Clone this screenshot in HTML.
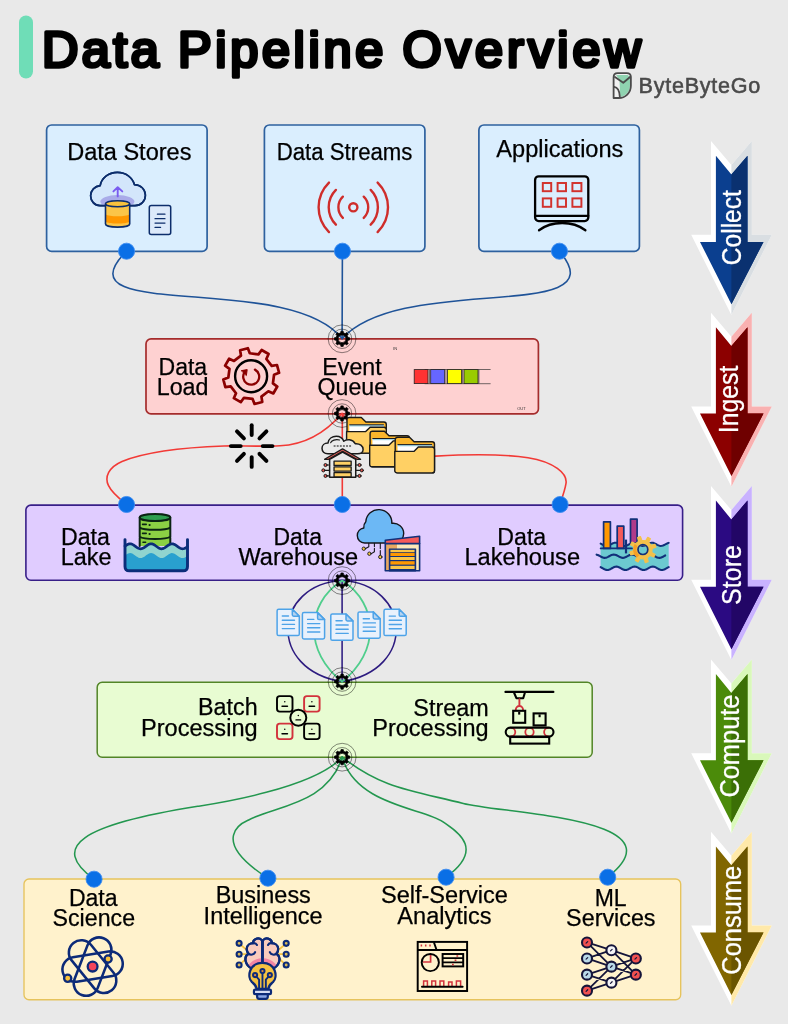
<!DOCTYPE html>
<html lang="en">
<head>
<meta charset="utf-8">
<title>Data Pipeline Overview</title>
<style>
html,body{margin:0;padding:0;background:#e9e9e9;}
body{width:788px;height:1024px;overflow:hidden;font-family:"Liberation Sans",sans-serif;}
svg{display:block;will-change:transform;}
text{font-family:"Liberation Sans",sans-serif;}
.lbl{font-size:24px;fill:#000;}
.side{font-size:24px;fill:#fff;}
</style>
</head>
<body>
<svg width="788" height="1024" viewBox="0 0 788 1024">
<!-- 00_bg -->
<rect x="0" y="0" width="788" height="1024" fill="#e9e9e9"/>
<!-- 10_title -->
<rect x="19" y="15.5" width="14" height="63" rx="7" ry="7" fill="#6fddb7"/>
<text y="66.6" font-size="50.4" fill="#000" stroke="#000" stroke-width="3.7" stroke-linejoin="round" stroke-linecap="round"><tspan x="41.9" textLength="116.8" lengthAdjust="spacing">Data</tspan> <tspan x="177.9" textLength="205.3" lengthAdjust="spacing">Pipeline</tspan> <tspan x="402.5" textLength="238.4" lengthAdjust="spacing">Overview</tspan></text>
<g id="logo">
  <clipPath id="logoclip"><path d="M613.61 77.17 Q613.61 73.11 617.68 73.11 H626.81 Q630.87 73.11 630.87 77.17 V85.80 C630.87 92.90 625.29 97.98 618.69 97.98 H613.61 Z"/></clipPath>
  <path d="M613.61 77.17 Q613.61 73.11 617.68 73.11 H626.81 Q630.87 73.11 630.87 77.17 V85.80 C630.87 92.90 625.29 97.98 618.69 97.98 H613.61 Z" fill="#f1f1f1"/>
  <path d="M616.15 74.93 L627.83 74.93 L629.96 77.17 V85.80 C629.96 91.89 625.29 96.46 620.21 97.07 L619.50 80.21 Z" fill="#8fd3b0" clip-path="url(#logoclip)"/>
  <g fill="none" stroke="#4a4a4a" stroke-width="1.8" stroke-linejoin="round" stroke-linecap="round">
  <path d="M614.93 76.96 L623.26 82.75 L630.37 76.76"/><path d="M614.12 86.81 Q619.40 87.52 619.81 96.66"/><path d="M613.61 77.17 Q613.61 73.11 617.68 73.11 H626.81 Q630.87 73.11 630.87 77.17 V85.80 C630.87 92.90 625.29 97.98 618.69 97.98 H613.61 Z"/>
  </g>
  <text x="638.6" y="92.9" font-size="21.6" fill="#4a4a4a" stroke="#4a4a4a" stroke-width="0.55" textLength="121.6" lengthAdjust="spacing">ByteByteGo</text>
</g>
<!-- 20_boxes -->
<g stroke-width="1.7">
  <rect x="46.6" y="125" width="160.5" height="126.4" rx="5" fill="#daeefe" stroke="#2e619f"/>
  <rect x="264.4" y="125" width="160.5" height="126.4" rx="5" fill="#daeefe" stroke="#2e619f"/>
  <rect x="478.9" y="125" width="160.5" height="126.4" rx="5" fill="#daeefe" stroke="#2e619f"/>
  <rect x="146" y="338.9" width="392.4" height="75" rx="5" fill="#fed1d1" stroke="#a52c2c"/>
  <rect x="25.9" y="505.1" width="656.7" height="75.1" rx="5" fill="#e0ccff" stroke="#381f88" stroke-width="1.6"/>
  <rect x="97.2" y="682.2" width="495" height="75" rx="5" fill="#e8fcd2" stroke="#528527" stroke-width="1.5"/>
  <rect x="24" y="879" width="656.7" height="120.7" rx="5" fill="#fff2cc" stroke="#e6c35c" stroke-width="1.35"/>
</g>
<!-- 30_lines -->
<g fill="none" stroke-width="1.6" stroke-linecap="round">
  <g stroke="#1f5398">
    <path d="M126.5 251.2 C54.6 323.3 288 270.5 342.1 338.6"/>
    <path d="M342.4 251 L342.1 338.6"/>
    <path d="M559.4 251.2 C621.3 324.2 402.3 272.4 342.1 338.6"/>
  </g>
  <g stroke="#f23a36">
    <path d="M342.1 413.5 C326 432 306 444.6 280 445.8 C260 446.6 238 445.6 224 446 C184 447.4 144 452.6 122 461.4 C108.6 467.2 104.4 477 108.4 485.4 C111.6 492.4 119.6 499 126.5 504.4"/>
    <path d="M342.3 413.5 L342.3 504"/>
    <path d="M342.1 413.5 C360 440 400 457 435.6 456.1 C470 454.2 500 453.6 528 457.7 C554 461.8 567.6 473.6 566 483.4 C564.8 491 562 498 559.8 504.4"/>
  </g>
  <g stroke="#2d1b80" stroke-width="1.55">
    <path d="M342.1 580.6 C273.1 584.6 266.9 669.7 342.1 681.6"/>
    <path d="M342.1 580.6 C411.1 584.6 417.3 669.7 342.1 681.6"/>
    <path d="M342.1 580.6 L342.1 681.6"/>
  </g>
  <g stroke="#4fce8c" stroke-width="1.8">
    <path d="M342.1 580.6 C304.5 604.8 304.8 652.2 342.1 681.6"/>
    <path d="M342.1 580.6 C379.7 604.8 379.4 652.2 342.1 681.6"/>
  </g>
  <g stroke="#23974f" stroke-width="1.55">
    <path d="M342.2 757.1 C313.5 789 211.2 804.2 197.7 806.3 C80.5 825 49.6 846.6 94 879.2"/>
    <path d="M342.2 757.1 C327.5 805 274 805.8 248.2 820.2 C247.3 820.7 204.2 837.2 267.9 878.2"/>
    <path d="M342.2 757.1 C355.8 805.3 424 808.3 442.6 821.6 C455.3 830.7 486.5 847.7 446.1 877.2"/>
    <path d="M342.2 757.1 C382 788.5 411.5 790.5 463.3 803.4 C506.9 814.3 683.9 817.4 607.7 877.2"/>
  </g>
</g>
<!-- 40_nodes -->
<g fill="#0a6fe6" stroke="#3d8cf0" stroke-width="0.9">
<circle cx="126.55" cy="251.2" r="8.05"/>
<circle cx="342.45" cy="251.2" r="8.05"/>
<circle cx="559.45" cy="251.2" r="8.05"/>
<circle cx="126.55" cy="504.5" r="8.05"/>
<circle cx="342.3" cy="504.5" r="8.05"/>
<circle cx="560.1" cy="504.5" r="8.05"/>
<circle cx="94.05" cy="879.2" r="8.05"/>
<circle cx="267.9" cy="878.2" r="8.05"/>
<circle cx="446.05" cy="877.2" r="8.05"/>
<circle cx="607.7" cy="877.2" r="8.05"/>
</g>
<g><circle cx="342.05" cy="338.8" r="13.9" fill="none" stroke="#000" stroke-opacity="0.7" stroke-width="0.65"/><circle cx="342.05" cy="338.8" r="9.7" fill="none" stroke="#000" stroke-opacity="0.7" stroke-width="0.65"/><path d="M340.63 332.87 L340.91 331.18 L343.19 331.18 L343.47 332.87 L345.24 333.60 L346.63 332.61 L348.24 334.22 L347.25 335.61 L347.98 337.38 L349.67 337.66 L349.67 339.94 L347.98 340.22 L347.25 341.99 L348.24 343.38 L346.63 344.99 L345.24 344.00 L343.47 344.73 L343.19 346.42 L340.91 346.42 L340.63 344.73 L338.86 344.00 L337.47 344.99 L335.86 343.38 L336.85 341.99 L336.12 340.22 L334.43 339.94 L334.43 337.66 L336.12 337.38 L336.85 335.61 L335.86 334.22 L337.47 332.61 L338.86 333.60Z M338.15 338.80 A3.9 3.9 0 1 0 345.95 338.80 A3.9 3.9 0 1 0 338.15 338.80 Z" fill="#000" fill-rule="evenodd" stroke="#000" stroke-width="0.7" stroke-linejoin="round"/></g>
<g><circle cx="342.05" cy="413.5" r="13.9" fill="none" stroke="#000" stroke-opacity="0.7" stroke-width="0.65"/><circle cx="342.05" cy="413.5" r="9.7" fill="none" stroke="#000" stroke-opacity="0.7" stroke-width="0.65"/><path d="M340.63 407.57 L340.91 405.88 L343.19 405.88 L343.47 407.57 L345.24 408.30 L346.63 407.31 L348.24 408.92 L347.25 410.31 L347.98 412.08 L349.67 412.36 L349.67 414.64 L347.98 414.92 L347.25 416.69 L348.24 418.08 L346.63 419.69 L345.24 418.70 L343.47 419.43 L343.19 421.12 L340.91 421.12 L340.63 419.43 L338.86 418.70 L337.47 419.69 L335.86 418.08 L336.85 416.69 L336.12 414.92 L334.43 414.64 L334.43 412.36 L336.12 412.08 L336.85 410.31 L335.86 408.92 L337.47 407.31 L338.86 408.30Z M338.15 413.50 A3.9 3.9 0 1 0 345.95 413.50 A3.9 3.9 0 1 0 338.15 413.50 Z" fill="#000" fill-rule="evenodd" stroke="#000" stroke-width="0.7" stroke-linejoin="round"/></g>
<g><circle cx="342.1" cy="580.6" r="13.9" fill="none" stroke="#000" stroke-opacity="0.7" stroke-width="0.65"/><circle cx="342.1" cy="580.6" r="9.7" fill="none" stroke="#000" stroke-opacity="0.7" stroke-width="0.65"/><path d="M340.68 574.67 L340.96 572.98 L343.24 572.98 L343.52 574.67 L345.29 575.40 L346.68 574.41 L348.29 576.02 L347.30 577.41 L348.03 579.18 L349.72 579.46 L349.72 581.74 L348.03 582.02 L347.30 583.79 L348.29 585.18 L346.68 586.79 L345.29 585.80 L343.52 586.53 L343.24 588.22 L340.96 588.22 L340.68 586.53 L338.91 585.80 L337.52 586.79 L335.91 585.18 L336.90 583.79 L336.17 582.02 L334.48 581.74 L334.48 579.46 L336.17 579.18 L336.90 577.41 L335.91 576.02 L337.52 574.41 L338.91 575.40Z M338.20 580.60 A3.9 3.9 0 1 0 346.00 580.60 A3.9 3.9 0 1 0 338.20 580.60 Z" fill="#000" fill-rule="evenodd" stroke="#000" stroke-width="0.7" stroke-linejoin="round"/></g>
<g><circle cx="342.1" cy="681.6" r="13.9" fill="none" stroke="#000" stroke-opacity="0.7" stroke-width="0.65"/><circle cx="342.1" cy="681.6" r="9.7" fill="none" stroke="#000" stroke-opacity="0.7" stroke-width="0.65"/><path d="M340.68 675.67 L340.96 673.98 L343.24 673.98 L343.52 675.67 L345.29 676.40 L346.68 675.41 L348.29 677.02 L347.30 678.41 L348.03 680.18 L349.72 680.46 L349.72 682.74 L348.03 683.02 L347.30 684.79 L348.29 686.18 L346.68 687.79 L345.29 686.80 L343.52 687.53 L343.24 689.22 L340.96 689.22 L340.68 687.53 L338.91 686.80 L337.52 687.79 L335.91 686.18 L336.90 684.79 L336.17 683.02 L334.48 682.74 L334.48 680.46 L336.17 680.18 L336.90 678.41 L335.91 677.02 L337.52 675.41 L338.91 676.40Z M338.20 681.60 A3.9 3.9 0 1 0 346.00 681.60 A3.9 3.9 0 1 0 338.20 681.60 Z" fill="#000" fill-rule="evenodd" stroke="#000" stroke-width="0.7" stroke-linejoin="round"/></g>
<g><circle cx="342.15" cy="757.2" r="13.9" fill="none" stroke="#000" stroke-opacity="0.7" stroke-width="0.65"/><circle cx="342.15" cy="757.2" r="9.7" fill="none" stroke="#000" stroke-opacity="0.7" stroke-width="0.65"/><path d="M340.73 751.27 L341.01 749.58 L343.29 749.58 L343.57 751.27 L345.34 752.00 L346.73 751.01 L348.34 752.62 L347.35 754.01 L348.08 755.78 L349.77 756.06 L349.77 758.34 L348.08 758.62 L347.35 760.39 L348.34 761.78 L346.73 763.39 L345.34 762.40 L343.57 763.13 L343.29 764.82 L341.01 764.82 L340.73 763.13 L338.96 762.40 L337.57 763.39 L335.96 761.78 L336.95 760.39 L336.22 758.62 L334.53 758.34 L334.53 756.06 L336.22 755.78 L336.95 754.01 L335.96 752.62 L337.57 751.01 L338.96 752.00Z M338.25 757.20 A3.9 3.9 0 1 0 346.05 757.20 A3.9 3.9 0 1 0 338.25 757.20 Z" fill="#000" fill-rule="evenodd" stroke="#000" stroke-width="0.7" stroke-linejoin="round"/></g>
<!-- 50_text -->
<g class="lbl" style="font-size:23px" stroke="#000" stroke-width="0.25">
<text x="67.17" y="160.2" textLength="124.28" lengthAdjust="spacingAndGlyphs">Data Stores</text>
<text x="276.78" y="160.2" textLength="135.62" lengthAdjust="spacingAndGlyphs">Data Streams</text>
<text x="496.35" y="157.1" textLength="127.0" lengthAdjust="spacingAndGlyphs">Applications</text>
<text x="158.51" y="374.9" textLength="48.69" lengthAdjust="spacingAndGlyphs">Data</text>
<text x="156.69" y="395.2" textLength="51.81" lengthAdjust="spacingAndGlyphs">Load</text>
<text x="322.3" y="374.5" textLength="59.37" lengthAdjust="spacingAndGlyphs">Event</text>
<text x="317.5" y="394.6" textLength="69.53" lengthAdjust="spacingAndGlyphs">Queue</text>
<text x="61.0" y="545.0" textLength="48.9" lengthAdjust="spacingAndGlyphs">Data</text>
<text x="60.78" y="564.9" textLength="50.87" lengthAdjust="spacingAndGlyphs">Lake</text>
<text x="273.52" y="544.9" textLength="48.48" lengthAdjust="spacingAndGlyphs">Data</text>
<text x="238.4" y="565.1" textLength="119.84" lengthAdjust="spacingAndGlyphs">Warehouse</text>
<text x="497.3" y="544.9" textLength="48.9" lengthAdjust="spacingAndGlyphs">Data</text>
<text x="464.46" y="565.2" textLength="115.59" lengthAdjust="spacingAndGlyphs">Lakehouse</text>
<text x="198.09" y="714.9" textLength="59.52" lengthAdjust="spacingAndGlyphs">Batch</text>
<text x="140.97" y="735.5" textLength="116.65" lengthAdjust="spacingAndGlyphs">Processing</text>
<text x="413.34" y="715.5" textLength="75.3" lengthAdjust="spacingAndGlyphs">Stream</text>
<text x="372.27" y="736.0" textLength="116.35" lengthAdjust="spacingAndGlyphs">Processing</text>
<text x="68.91" y="905.5" textLength="48.59" lengthAdjust="spacingAndGlyphs">Data</text>
<text x="52.55" y="926.3" textLength="82.48" lengthAdjust="spacingAndGlyphs">Science</text>
<text x="215.68" y="902.8" textLength="95.17" lengthAdjust="spacingAndGlyphs">Business</text>
<text x="203.63" y="924.1" textLength="119.02" lengthAdjust="spacingAndGlyphs">Intelligence</text>
<text x="380.93" y="902.8" textLength="127.02" lengthAdjust="spacingAndGlyphs">Self-Service</text>
<text x="397.35" y="924.1" textLength="94.2" lengthAdjust="spacingAndGlyphs">Analytics</text>
<text x="594.71" y="905.8" textLength="31.95" lengthAdjust="spacingAndGlyphs">ML</text>
<text x="566.14" y="926.1" textLength="89.4" lengthAdjust="spacingAndGlyphs">Services</text>
</g>
<g font-size="4" fill="#333"><text x="393.2" y="350.3">IN</text><text x="517.2" y="409.8">OUT</text></g>
<!-- 60_icons_top -->
<g id="ic-stores" stroke-linejoin="round" stroke-linecap="round">
  <clipPath id="cloudclip"><path d="M100 205.6 C94.5 205.6 90.6 201 90.6 195.8 C90.6 190.3 94.8 186.2 100.2 185.6 C101.5 178 108.5 172.4 117.4 172.4 C125.8 172.4 132.6 177.6 134.4 184.6 C140.6 184.8 145.4 189.3 145.4 195.2 C145.4 201 140.8 205.6 135 205.6 Z"/></clipPath>
  <path d="M100 205.6 C94.5 205.6 90.6 201 90.6 195.8 C90.6 190.3 94.8 186.2 100.2 185.6 C101.5 178 108.5 172.4 117.4 172.4 C125.8 172.4 132.6 177.6 134.4 184.6 C140.6 184.8 145.4 189.3 145.4 195.2 C145.4 201 140.8 205.6 135 205.6 Z" fill="#d3e6fb" stroke="#0c2d6b" stroke-width="1.6"/>
  <ellipse cx="117.4" cy="201.6" rx="17" ry="6.6" fill="#a9abe9" clip-path="url(#cloudclip)"/>
  <path d="M100 205.6 C94.5 205.6 90.6 201 90.6 195.8 C90.6 190.3 94.8 186.2 100.2 185.6 C101.5 178 108.5 172.4 117.4 172.4 C125.8 172.4 132.6 177.6 134.4 184.6 C140.6 184.8 145.4 189.3 145.4 195.2 C145.4 201 140.8 205.6 135 205.6 Z" fill="none" stroke="#0c2d6b" stroke-width="1.6"/>
  <path d="M117.7 196.4 V187.4 M113.4 191.4 L117.7 187.2 L122.3 191.4" fill="none" stroke="#7a5cf0" stroke-width="1.9"/>
  <path d="M105.5 203.8 V224 C105.5 228.2 129.7 228.2 129.7 224 V203.8 Z" fill="#fbc548"/>
  <path d="M105.5 214.3 C109 217 126 217 129.7 214.3 V221.4 C126 224.3 109 224.3 105.5 221.4 Z" fill="#ff9800"/>
  <ellipse cx="117.6" cy="203.8" rx="12.1" ry="3" fill="#f9c23c"/>
  <path d="M105.5 203.8 V224 C105.5 228.2 129.7 228.2 129.7 224 V203.8 M105.5 203.8 C105.5 199.8 129.7 199.8 129.7 203.8 C129.7 207.8 105.5 207.8 105.5 203.8 Z" fill="none" stroke="#0c2d6b" stroke-width="1.6"/>
  <rect x="149.3" y="205.5" width="21.4" height="29" rx="2" fill="#dce9fa" stroke="#0c2d6b" stroke-width="1.5"/>
  <path d="M157.4 214.2 H165 M155 218.7 H165 M155 223.1 H165 M155 227.4 H160.6" fill="none" stroke="#0c2d6b" stroke-width="1.2"/>
</g>
<g id="ic-streams" fill="none" stroke="#cf2d2b" stroke-width="2.4" stroke-linecap="round">
  <circle cx="353.3" cy="207.3" r="4.1"/>
  <path d="M342.86 196.67 A14.9 14.9 0 0 0 342.86 217.93 M363.74 196.67 A14.9 14.9 0 0 1 363.74 217.93"/>
  <path d="M335.91 189.91 A24.6 24.6 0 0 0 335.91 224.69 M370.69 189.91 A24.6 24.6 0 0 1 370.69 224.69"/>
  <path d="M328.98 182.55 A34.7 34.7 0 0 0 328.98 232.05 M377.62 182.55 A34.7 34.7 0 0 1 377.62 232.05"/>
</g>
<g id="ic-apps" fill="none" stroke-linejoin="round" stroke-linecap="round">
  <rect x="535.1" y="176.3" width="53.2" height="44.8" rx="3.6" stroke="#000" stroke-width="2.3"/>
  <path d="M535.1 215.8 H588.3" stroke="#000" stroke-width="2.2"/>
  <path d="M539 230.2 C552 220.6 572.4 220.6 585.4 230.2" stroke="#000" stroke-width="2.3"/>
  <g stroke="#d2322d" stroke-width="1.95" stroke-linejoin="miter">
    <rect x="542.8" y="183" width="8.4" height="8.2"/>
    <rect x="557.6" y="183" width="8.4" height="8.2"/>
    <rect x="572.4" y="183" width="9" height="8.2"/>
    <rect x="542.8" y="198.4" width="8.4" height="8.4"/>
    <rect x="557.6" y="198.4" width="8.4" height="8.4"/>
    <rect x="572.4" y="198.4" width="9" height="8.4"/>
  </g>
</g>
<!-- 61_icons_ingest -->
<g id="ic-load" fill="none" stroke-linejoin="round" stroke-linecap="round">
<path d="M240.98 355.61 L240.13 350.27 L247.87 348.20 L249.80 353.24 L258.47 354.38 L261.64 350.01 L268.58 354.02 L266.37 358.95 L271.69 365.88 L277.03 365.03 L279.10 372.77 L274.06 374.70 L272.92 383.37 L277.29 386.54 L273.28 393.48 L268.35 391.27 L261.42 396.59 L262.27 401.93 L254.53 404.00 L252.60 398.96 L243.93 397.82 L240.76 402.19 L233.82 398.18 L236.03 393.25 L230.71 386.32 L225.37 387.17 L223.30 379.43 L228.34 377.50 L229.48 368.83 L225.11 365.66 L229.12 358.72 L234.05 360.93Z" stroke="#8b0000" stroke-width="2.7"/>
<circle cx="251.1" cy="376.20000000000005" r="16" stroke="#000" stroke-width="2.4"/>
<path d="M254.96 369.64 A8.0 8.0 0 1 1 244.65 372.11" stroke="#8b0000" stroke-width="2.3"/>
<path d="M241.6 370.6 L247.2 369.6 L246.4 375.2 Z" fill="#8b0000" stroke="#8b0000" stroke-width="1"/>
</g>
<g id="ic-spin" stroke="#000" stroke-width="3.9" stroke-linecap="round">
<path d="M262.70 446.10 L272.50 446.10"/><path d="M259.48 453.88 L266.41 460.81"/><path d="M251.70 457.10 L251.70 466.90"/><path d="M243.92 453.88 L236.99 460.81"/><path d="M240.70 446.10 L230.90 446.10"/><path d="M243.92 438.32 L236.99 431.39"/><path d="M251.70 435.10 L251.70 425.30"/><path d="M259.48 438.32 L266.41 431.39"/>
</g>
<g id="ic-queue">
<path d="M424.6 369.5 H490.6 M424.6 383.7 H490.6 M429.4 369.5 V383.7 M446 369.5 V383.7 M462.6 369.5 V383.7 M478.9 369.5 V383.7" fill="none" stroke="#333" stroke-width="0.7"/>
<g stroke="#222" stroke-width="0.8">
<rect x="414.2" y="369.6" width="13.8" height="14" fill="#ff3333"/>
<rect x="430.7" y="369.6" width="14" height="14" fill="#6666ff"/>
<rect x="447.5" y="369.6" width="14" height="14" fill="#ffff00"/>
<rect x="464" y="369.6" width="14" height="14" fill="#99cc00"/>
</g>
</g>
<g id="ic-folders">
<g transform="translate(346.3 416.8)" stroke="#1a1a1a" stroke-width="1.4" stroke-linejoin="round"><path d="M0.7 3.2 Q0.7 0.7 3.2 0.7 L15 0.7 L19.6 5.2 L37.6 5.2 Q40 5.2 40 7.6 L40 33.8 Q40 36.3 37.5 36.3 L3.2 36.3 Q0.7 36.3 0.7 33.8 Z" fill="#fbb62c"/><rect x="3" y="8" width="34.6" height="8" fill="#ffffff" stroke="none"/><rect x="3" y="8" width="34.6" height="1.7" fill="#9fd3e6" stroke="none"/><path d="M3 8 H37.6" fill="none" stroke-width="1"/><path d="M0.3 14.8 L19.4 14.8 L23.8 10.4 L37.6 10.4 Q40 10.4 40 12.8 L40 33.8 Q40 36.3 37.5 36.3 L2.8 36.3 Q0.3 36.3 0.3 33.8 Z" fill="#ffd064"/></g>
<g transform="translate(369.4 430.5)" stroke="#1a1a1a" stroke-width="1.4" stroke-linejoin="round"><path d="M0.7 3.2 Q0.7 0.7 3.2 0.7 L15 0.7 L19.6 5.2 L37.6 5.2 Q40 5.2 40 7.6 L40 33.8 Q40 36.3 37.5 36.3 L3.2 36.3 Q0.7 36.3 0.7 33.8 Z" fill="#fbb62c"/><rect x="3" y="8" width="34.6" height="8" fill="#ffffff" stroke="none"/><rect x="3" y="8" width="34.6" height="1.7" fill="#9fd3e6" stroke="none"/><path d="M3 8 H37.6" fill="none" stroke-width="1"/><path d="M0.3 14.8 L19.4 14.8 L23.8 10.4 L37.6 10.4 Q40 10.4 40 12.8 L40 33.8 Q40 36.3 37.5 36.3 L2.8 36.3 Q0.3 36.3 0.3 33.8 Z" fill="#ffd064"/></g>
<g transform="translate(394.5 436.6)" stroke="#1a1a1a" stroke-width="1.4" stroke-linejoin="round"><path d="M0.7 3.2 Q0.7 0.7 3.2 0.7 L15 0.7 L19.6 5.2 L37.6 5.2 Q40 5.2 40 7.6 L40 33.8 Q40 36.3 37.5 36.3 L3.2 36.3 Q0.7 36.3 0.7 33.8 Z" fill="#fbb62c"/><rect x="3" y="8" width="34.6" height="8" fill="#ffffff" stroke="none"/><rect x="3" y="8" width="34.6" height="1.7" fill="#9fd3e6" stroke="none"/><path d="M3 8 H37.6" fill="none" stroke-width="1"/><path d="M0.3 14.8 L19.4 14.8 L23.8 10.4 L37.6 10.4 Q40 10.4 40 12.8 L40 33.8 Q40 36.3 37.5 36.3 L2.8 36.3 Q0.3 36.3 0.3 33.8 Z" fill="#ffd064"/></g>
</g>
<g id="ic-whcloud" stroke="#1a1a1a" stroke-width="1.5" stroke-linejoin="round" stroke-linecap="round">
<path d="M327.94 453.76 C324.14 453.76 322.01 451.32 322.01 448.27 C322.01 445.23 324.52 443.10 327.94 443.10 C328.55 438.76 332.13 436.24 336.32 436.24 C339.75 436.24 342.56 438.00 343.78 441.27 C346.60 438.98 352.31 438.98 355.20 443.71 C359.92 443.33 363.12 445.99 363.12 449.42 C363.12 452.08 360.69 453.76 357.64 453.76 Z" fill="#eaeaea"/>
<path d="M330.61 442.79 C331.37 440.66 335.56 438.76 339.52 440.05" fill="none" stroke-width="1.1"/>
<path d="M333.66 445.99 L352.08 445.99" fill="none" stroke="#555" stroke-width="1.5" stroke-dasharray="1.9 1.2" stroke-linecap="butt"/>
<path d="M329.62 459.32 L329.62 477.36 L355.74 477.36 L355.74 459.32 L342.56 452.08 Z" fill="#e9e9e9"/>
<path d="M324.52 459.32 L342.56 448.88 L360.69 459.32 L356.73 459.32 L342.56 451.32 L328.55 459.32 Z" fill="#f0625c" stroke-width="1.2"/>
<rect x="334.04" y="461.22" width="17.13" height="4.19" fill="#ffd064" stroke-width="1.3"/>
<rect x="334.04" y="466.93" width="17.13" height="4.19" fill="#ffd064" stroke-width="1.3"/>
<rect x="334.04" y="472.64" width="17.13" height="4.19" fill="#ffd064" stroke-width="1.3"/>
<g stroke-width="1.1" fill="none"><path d="M329.62 465.03 H327.03 M329.62 470.36 H324.90 M329.62 475.91 H327.03 M355.74 465.03 H358.02 M355.74 470.36 H360.31 M355.74 475.91 H358.02 "/></g>
<g fill="#e8574f" stroke-width="1"><circle cx="325.51" cy="465.03" r="1.55"/><circle cx="323.38" cy="470.36" r="1.55"/><circle cx="325.51" cy="475.91" r="1.55"/><circle cx="359.54" cy="465.03" r="1.55"/><circle cx="361.83" cy="470.36" r="1.55"/><circle cx="359.54" cy="475.91" r="1.55"/></g>
</g>
<!-- 62_icons_store -->
<g id="ic-lake" stroke-linejoin="round" stroke-linecap="round">
<path d="M139.6 517.4 V546 H170.4 V517.4 Z" fill="#8bd044"/>
<ellipse cx="155" cy="517.5" rx="15.3" ry="3.5" fill="#2e9e50" stroke="#0b2414" stroke-width="2"/>
<path d="M139.7 517.4 V546 M170.3 517.4 V546 M139.7 527.6 C144 530.6 166 530.6 170.3 527.6 M139.7 536.8 C144 539.8 166 539.8 170.3 536.8" fill="none" stroke="#0b2414" stroke-width="2"/>
<path d="M142.6 524.4 H146.2 M142.6 533.4 H146.2 M143 542.2 H145.6" fill="none" stroke="#0b2414" stroke-width="1.6"/>
<circle cx="149.6" cy="525" r="1.1" fill="#0b2414"/><circle cx="149.6" cy="534" r="1.1" fill="#0b2414"/>
<path d="M125.00 546.19 L126.04 545.43 L127.08 544.75 L128.12 544.22 L129.17 543.90 L130.21 543.80 L131.25 543.95 L132.29 544.32 L133.33 544.88 L134.38 545.58 L135.42 546.35 L136.46 547.11 L137.50 547.80 L138.54 548.34 L139.58 548.69 L140.62 548.80 L141.67 548.67 L142.71 548.32 L143.75 547.77 L144.79 547.08 L145.83 546.31 L146.88 545.55 L147.92 544.85 L148.96 544.30 L150.00 543.93 L151.04 543.80 L152.08 543.91 L153.12 544.24 L154.17 544.78 L155.21 545.46 L156.25 546.23 L157.29 547.00 L158.33 547.70 L159.38 548.27 L160.42 548.64 L161.46 548.80 L162.50 548.71 L163.54 548.39 L164.58 547.87 L165.62 547.20 L166.67 546.44 L167.71 545.67 L168.75 544.95 L169.79 544.37 L170.83 543.98 L171.88 543.81 L172.92 543.87 L173.96 544.18 L175.00 544.68 L176.04 545.35 L177.08 546.10 L178.12 546.87 L179.17 547.59 L180.21 548.19 L181.25 548.60 L182.29 548.79 L183.33 548.74 L184.38 548.46 L185.42 547.96 L186.46 547.31 L187.50 546.56 L187.5 566.5 Q187.5 570.8 183.2 570.8 L129.3 570.8 Q125 570.8 125 566.5 Z" fill="#90d4cf"/>
<path d="M125.00 555.49 L126.04 554.73 L127.08 554.05 L128.12 553.52 L129.17 553.20 L130.21 553.10 L131.25 553.25 L132.29 553.62 L133.33 554.18 L134.38 554.88 L135.42 555.65 L136.46 556.41 L137.50 557.10 L138.54 557.64 L139.58 557.99 L140.62 558.10 L141.67 557.97 L142.71 557.62 L143.75 557.07 L144.79 556.38 L145.83 555.61 L146.88 554.85 L147.92 554.15 L148.96 553.60 L150.00 553.23 L151.04 553.10 L152.08 553.21 L153.12 553.54 L154.17 554.08 L155.21 554.76 L156.25 555.53 L157.29 556.30 L158.33 557.00 L159.38 557.57 L160.42 557.94 L161.46 558.10 L162.50 558.01 L163.54 557.69 L164.58 557.17 L165.62 556.50 L166.67 555.74 L167.71 554.97 L168.75 554.25 L169.79 553.67 L170.83 553.28 L171.88 553.11 L172.92 553.17 L173.96 553.48 L175.00 553.98 L176.04 554.65 L177.08 555.40 L178.12 556.17 L179.17 556.89 L180.21 557.49 L181.25 557.90 L182.29 558.09 L183.33 558.04 L184.38 557.76 L185.42 557.26 L186.46 556.61 L187.50 555.86 L187.5 566.5 Q187.5 570.8 183.2 570.8 L129.3 570.8 Q125 570.8 125 566.5 Z" fill="#29a0cf"/>
<path d="M125 539.6 V566.5 Q125 570.8 129.3 570.8 L183.2 570.8 Q187.5 570.8 187.5 566.5 V539.6" fill="none" stroke="#0c2d7a" stroke-width="2.9"/>
<path d="M125.00 546.19 L126.04 545.43 L127.08 544.75 L128.12 544.22 L129.17 543.90 L130.21 543.80 L131.25 543.95 L132.29 544.32 L133.33 544.88 L134.38 545.58 L135.42 546.35 L136.46 547.11 L137.50 547.80 L138.54 548.34 L139.58 548.69 L140.62 548.80 L141.67 548.67 L142.71 548.32 L143.75 547.77 L144.79 547.08 L145.83 546.31 L146.88 545.55 L147.92 544.85 L148.96 544.30 L150.00 543.93 L151.04 543.80 L152.08 543.91 L153.12 544.24 L154.17 544.78 L155.21 545.46 L156.25 546.23 L157.29 547.00 L158.33 547.70 L159.38 548.27 L160.42 548.64 L161.46 548.80 L162.50 548.71 L163.54 548.39 L164.58 547.87 L165.62 547.20 L166.67 546.44 L167.71 545.67 L168.75 544.95 L169.79 544.37 L170.83 543.98 L171.88 543.81 L172.92 543.87 L173.96 544.18 L175.00 544.68 L176.04 545.35 L177.08 546.10 L178.12 546.87 L179.17 547.59 L180.21 548.19 L181.25 548.60 L182.29 548.79 L183.33 548.74 L184.38 548.46 L185.42 547.96 L186.46 547.31 L187.50 546.56" fill="none" stroke="#0c2d7a" stroke-width="2.7"/>
</g>
<g id="ic-dw" stroke-linejoin="round" stroke-linecap="round">
<path d="M364.6 543 C360.4 543 357.3 539.6 357.3 535.6 C357.3 531.6 360.2 528.6 363.8 528 C363.6 525.6 364.2 523.4 365.8 521.8 A13 13 0 0 1 391.8 523.4 C398 522.6 403.7 527.2 403.7 533.4 C403.7 538.8 399.6 543 394.4 543 Z" fill="#6cb8f5" stroke="#14161c" stroke-width="1.4"/>
<g fill="none" stroke="#14161c" stroke-width="1.1">
<path d="M368.8 543.4 V546.8 L365.6 548.6"/>
<path d="M374.4 543.4 V546.4 M374.4 548.4 V551.8 L371.4 553.6"/>
<path d="M380.3 543.4 V548.6 M380.3 550.6 V555"/>
</g>
<g fill="#f5c842" stroke="#14161c" stroke-width="0.9">
<circle cx="363.8" cy="548.7" r="1.7"/><circle cx="369.4" cy="553.7" r="1.7"/><circle cx="380.3" cy="557" r="1.7"/>
</g>
<path d="M385.3 540.2 L419.6 536.2 V570.8 H385.3 Z" fill="#fde8b8"/>
<path d="M385.3 543.6 H397 V549 H389 V570.8 H385.3 Z" fill="#e8a860"/>
<path d="M385.3 540.2 L419.6 536.2 V543.6 H385.3 Z" fill="#f55a5a" stroke="#12307a" stroke-width="1.6"/>
<path d="M385.3 543.6 V570.8 H419.6 V543.6" fill="none" stroke="#12307a" stroke-width="1.6"/>
<rect x="389.4" y="549.2" width="26.2" height="21.6" fill="#12307a" stroke="#12307a" stroke-width="1.2"/>
<rect x="390.4" y="549.9" width="24.2" height="2.2" fill="#fbc548"/>
<rect x="390.4" y="552.8" width="24.2" height="3.2" fill="#ff9800"/>
<rect x="390.4" y="557" width="24.2" height="3" fill="#fbc548"/>
<rect x="390.4" y="561.2" width="24.2" height="3.4" fill="#ff9800"/>
<rect x="390.4" y="565.8" width="24.2" height="3.2" fill="#fbc548"/>
</g>
<g id="ic-lh" stroke-linejoin="round" stroke-linecap="round">
<path d="M600.60 543.63 L601.74 544.24 L602.87 544.85 L604.00 545.38 L605.14 545.75 L606.27 545.90 L607.41 545.80 L608.55 545.48 L609.68 544.98 L610.82 544.37 L611.95 543.76 L613.09 543.22 L614.22 542.85 L615.36 542.70 L616.49 542.79 L617.62 543.11 L618.76 543.61 L619.89 544.21 L621.03 544.83 L622.17 545.37 L623.30 545.74 L624.44 545.90 L625.57 545.81 L626.71 545.50 L627.84 545.00 L628.98 544.40 L630.11 543.78 L631.25 543.24 L632.38 542.86 L633.51 542.70 L634.65 542.79 L635.79 543.10 L636.92 543.59 L638.06 544.19 L639.19 544.81 L640.33 545.35 L641.46 545.73 L642.60 545.90 L643.73 545.82 L644.87 545.51 L646.00 545.02 L647.13 544.42 L648.27 543.80 L649.41 543.26 L650.54 542.87 L651.68 542.70 L652.81 542.78 L653.95 543.08 L655.08 543.57 L656.22 544.17 L657.35 544.79 L658.49 545.33 L659.62 545.72 L660.75 545.89 L661.89 545.83 L663.03 545.52 L664.16 545.04 L665.30 544.44 L666.43 543.82 L667.57 543.27 L668.70 542.88 L668.70 567.11 L667.57 567.66 L666.43 568.31 L665.30 568.96 L664.16 569.51 L663.03 569.87 L661.89 570.00 L660.75 569.87 L659.62 569.50 L658.49 568.95 L657.35 568.30 L656.22 567.65 L655.08 567.10 L653.95 566.73 L652.81 566.60 L651.68 566.73 L650.54 567.09 L649.41 567.64 L648.27 568.29 L647.13 568.94 L646.00 569.49 L644.87 569.86 L643.73 570.00 L642.60 569.88 L641.46 569.52 L640.33 568.97 L639.19 568.32 L638.06 567.67 L636.92 567.12 L635.79 566.74 L634.65 566.60 L633.51 566.72 L632.38 567.08 L631.25 567.62 L630.11 568.26 L628.98 568.92 L627.84 569.47 L626.71 569.86 L625.57 570.00 L624.44 569.89 L623.30 569.53 L622.17 568.99 L621.03 568.35 L619.89 567.69 L618.76 567.13 L617.62 566.75 L616.49 566.60 L615.36 566.71 L614.22 567.06 L613.09 567.60 L611.95 568.24 L610.82 568.89 L609.68 569.46 L608.55 569.85 L607.41 570.00 L606.27 569.89 L605.14 569.55 L604.00 569.01 L602.87 568.37 L601.74 567.72 L600.60 567.15 Z" fill="#6ccad0"/>
<path d="M600.60 543.63 L601.74 544.24 L602.87 544.85 L604.00 545.38 L605.14 545.75 L606.27 545.90 L607.41 545.80 L608.55 545.48 L609.68 544.98 L610.82 544.37 L611.95 543.76 L613.09 543.22 L614.22 542.85 L615.36 542.70 L616.49 542.79 L617.62 543.11 L618.76 543.61 L619.89 544.21 L621.03 544.83 L622.17 545.37 L623.30 545.74 L624.44 545.90 L625.57 545.81 L626.71 545.50 L627.84 545.00 L628.98 544.40 L630.11 543.78 L631.25 543.24 L632.38 542.86 L633.51 542.70 L634.65 542.79 L635.79 543.10 L636.92 543.59 L638.06 544.19 L639.19 544.81 L640.33 545.35 L641.46 545.73 L642.60 545.90 L643.73 545.82 L644.87 545.51 L646.00 545.02 L647.13 544.42 L648.27 543.80 L649.41 543.26 L650.54 542.87 L651.68 542.70 L652.81 542.78 L653.95 543.08 L655.08 543.57 L656.22 544.17 L657.35 544.79 L658.49 545.33 L659.62 545.72 L660.75 545.89 L661.89 545.83 L663.03 545.52 L664.16 545.04 L665.30 544.44 L666.43 543.82 L667.57 543.27 L668.70 542.88" fill="none" stroke="#12307a" stroke-width="2"/>
<rect x="603.6" y="521.8" width="6.8" height="26.6" fill="#ff9800" stroke="#12307a" stroke-width="1.7"/>
<rect x="617.2" y="526.2" width="6.6" height="22.2" fill="#f55a5a" stroke="#12307a" stroke-width="1.7"/>
<rect x="630.5" y="519.2" width="6.6" height="24" fill="#b03a8a" stroke="#12307a" stroke-width="1.7"/>
<path d="M626 539.6 V553.4" fill="none" stroke="#12307a" stroke-width="2.2" stroke-linecap="butt"/>
<path d="M600.6 548.4 H632" fill="none" stroke="#12307a" stroke-width="1.7"/>
<path d="M596.60 554.65 L597.74 554.98 L598.89 555.50 L600.03 556.13 L601.17 556.77 L602.32 557.32 L603.46 557.70 L604.60 557.85 L605.75 557.74 L606.89 557.40 L608.03 556.87 L609.18 556.24 L610.32 555.60 L611.46 555.06 L612.61 554.69 L613.75 554.55 L614.89 554.67 L616.04 555.02 L617.18 555.55 L618.32 556.18 L619.47 556.82 L620.61 557.36 L621.75 557.72 L622.90 557.85 L624.04 557.72 L625.18 557.36 L626.33 556.82 L627.47 556.19 L628.61 555.56 L629.76 555.02 L630.90 554.67 L632.04 554.55 L633.19 554.69 L634.33 555.06 L635.47 555.60 L636.62 556.24 L637.76 556.87 L638.90 557.40 L640.05 557.74 L641.19 557.85 L642.33 557.70 L643.48 557.33 L644.62 556.77 L645.76 556.14 L646.91 555.51 L648.05 554.98 L649.19 554.65 L650.34 554.55 L651.48 554.71 L652.62 555.09 L653.77 555.65 L654.91 556.29 L656.05 556.92 L657.20 557.43 L658.34 557.76 L659.48 557.85 L660.63 557.68 L661.77 557.29 L662.91 556.72 L664.06 556.08 L665.20 555.46" fill="none" stroke="#12307a" stroke-width="2.1"/>
<path d="M600.60 567.15 L601.74 567.72 L602.87 568.37 L604.00 569.01 L605.14 569.55 L606.27 569.89 L607.41 570.00 L608.55 569.85 L609.68 569.46 L610.82 568.89 L611.95 568.24 L613.09 567.60 L614.22 567.06 L615.36 566.71 L616.49 566.60 L617.62 566.75 L618.76 567.13 L619.89 567.69 L621.03 568.35 L622.17 568.99 L623.30 569.53 L624.44 569.89 L625.57 570.00 L626.71 569.86 L627.84 569.47 L628.98 568.92 L630.11 568.26 L631.25 567.62 L632.38 567.08 L633.51 566.72 L634.65 566.60 L635.79 566.74 L636.92 567.12 L638.06 567.67 L639.19 568.32 L640.33 568.97 L641.46 569.52 L642.60 569.88 L643.73 570.00 L644.87 569.86 L646.00 569.49 L647.13 568.94 L648.27 568.29 L649.41 567.64 L650.54 567.09 L651.68 566.73 L652.81 566.60 L653.95 566.73 L655.08 567.10 L656.22 567.65 L657.35 568.30 L658.49 568.95 L659.62 569.50 L660.75 569.87 L661.89 570.00 L663.03 569.87 L664.16 569.51 L665.30 568.96 L666.43 568.31 L667.57 567.66 L668.70 567.11" fill="none" stroke="#12307a" stroke-width="2.1"/>
<path d="M645.70 540.73 L647.74 537.32 L650.38 538.72 L648.69 542.32 L651.15 545.31 L655.01 544.34 L655.88 547.19 L652.14 548.55 L651.77 552.40 L655.18 554.44 L653.78 557.08 L650.18 555.39 L647.19 557.85 L648.16 561.71 L645.31 562.58 L643.95 558.84 L640.10 558.47 L638.06 561.88 L635.42 560.48 L637.11 556.88 L634.65 553.89 L630.79 554.86 L629.92 552.01 L633.66 550.65 L634.03 546.80 L630.62 544.76 L632.02 542.12 L635.62 543.81 L638.61 541.35 L637.64 537.49 L640.49 536.62 L641.85 540.36Z M647.8 549.6 A4.9 4.9 0 1 0 638.0 549.6 A4.9 4.9 0 1 0 647.8 549.6 Z" fill="#f3c14b" fill-rule="evenodd" stroke="#f3c14b" stroke-width="1.2" />
<path d="M634.70 544.00 A10 10 0 0 0 636.70 557.40 L639.30 555.20 A7 7 0 0 1 637.30 546.00 Z" fill="#f59a20" opacity="0.85"/>
<circle cx="642.9" cy="549.6" r="4.9" fill="none" stroke="#12307a" stroke-width="1.7"/>
</g>
<!-- 63_icons_compute -->
<g id="ic-docs">
<g transform="translate(277.1 609.2)"><path d="M1.6 0 H15.2 L22.2 7.0 V24.7 Q22.2 26.3 20.599999999999998 26.3 H1.6 Q0 26.3 0 24.7 V1.6 Q0 0 1.6 0 Z" fill="#e8f1fc" stroke="#4da3e8" stroke-width="1.5" stroke-linejoin="round"/><path d="M15.2 0 V5.6 Q15.2 7.0 16.599999999999998 7.0 H22.2 Z" fill="#b5d3f1" stroke="#4da3e8" stroke-width="1.5" stroke-linejoin="round"/><path d="M5.2 6.8 H11.4 M5.2 11 H17.4 M5.2 15.2 H17.4 M5.2 19.4 H17.4" fill="none" stroke="#4da3e8" stroke-width="1.4" stroke-linecap="round"/></g>
<g transform="translate(302.4 612.6)"><path d="M1.6 0 H15.2 L22.2 7.0 V24.7 Q22.2 26.3 20.599999999999998 26.3 H1.6 Q0 26.3 0 24.7 V1.6 Q0 0 1.6 0 Z" fill="#e8f1fc" stroke="#4da3e8" stroke-width="1.5" stroke-linejoin="round"/><path d="M15.2 0 V5.6 Q15.2 7.0 16.599999999999998 7.0 H22.2 Z" fill="#b5d3f1" stroke="#4da3e8" stroke-width="1.5" stroke-linejoin="round"/><path d="M5.2 6.8 H11.4 M5.2 11 H17.4 M5.2 15.2 H17.4 M5.2 19.4 H17.4" fill="none" stroke="#4da3e8" stroke-width="1.4" stroke-linecap="round"/></g>
<g transform="translate(330.8 614)"><path d="M1.6 0 H15.2 L22.2 7.0 V24.7 Q22.2 26.3 20.599999999999998 26.3 H1.6 Q0 26.3 0 24.7 V1.6 Q0 0 1.6 0 Z" fill="#e8f1fc" stroke="#4da3e8" stroke-width="1.5" stroke-linejoin="round"/><path d="M15.2 0 V5.6 Q15.2 7.0 16.599999999999998 7.0 H22.2 Z" fill="#b5d3f1" stroke="#4da3e8" stroke-width="1.5" stroke-linejoin="round"/><path d="M5.2 6.8 H11.4 M5.2 11 H17.4 M5.2 15.2 H17.4 M5.2 19.4 H17.4" fill="none" stroke="#4da3e8" stroke-width="1.4" stroke-linecap="round"/></g>
<g transform="translate(358 611.9)"><path d="M1.6 0 H15.2 L22.2 7.0 V24.7 Q22.2 26.3 20.599999999999998 26.3 H1.6 Q0 26.3 0 24.7 V1.6 Q0 0 1.6 0 Z" fill="#e8f1fc" stroke="#4da3e8" stroke-width="1.5" stroke-linejoin="round"/><path d="M15.2 0 V5.6 Q15.2 7.0 16.599999999999998 7.0 H22.2 Z" fill="#b5d3f1" stroke="#4da3e8" stroke-width="1.5" stroke-linejoin="round"/><path d="M5.2 6.8 H11.4 M5.2 11 H17.4 M5.2 15.2 H17.4 M5.2 19.4 H17.4" fill="none" stroke="#4da3e8" stroke-width="1.4" stroke-linecap="round"/></g>
<g transform="translate(384 609.3)"><path d="M1.6 0 H15.2 L22.2 7.0 V24.7 Q22.2 26.3 20.599999999999998 26.3 H1.6 Q0 26.3 0 24.7 V1.6 Q0 0 1.6 0 Z" fill="#e8f1fc" stroke="#4da3e8" stroke-width="1.5" stroke-linejoin="round"/><path d="M15.2 0 V5.6 Q15.2 7.0 16.599999999999998 7.0 H22.2 Z" fill="#b5d3f1" stroke="#4da3e8" stroke-width="1.5" stroke-linejoin="round"/><path d="M5.2 6.8 H11.4 M5.2 11 H17.4 M5.2 15.2 H17.4 M5.2 19.4 H17.4" fill="none" stroke="#4da3e8" stroke-width="1.4" stroke-linecap="round"/></g>
</g>
<g id="ic-batch" fill="none" stroke-width="1.9" stroke-linejoin="round" stroke-linecap="round">
<rect x="277" y="696.1" width="15.5" height="15.5" rx="2.8" stroke="#000"/><circle cx="284.75" cy="701.7" r="0.75" fill="#000" stroke="none"/><path d="M282 706.3000000000001 H287.5" stroke="#000" stroke-width="1.4"/>
<rect x="304.1" y="696.1" width="15.5" height="15.5" rx="2.8" stroke="#d2323c"/><circle cx="311.85" cy="701.7" r="0.75" fill="#000" stroke="none"/><path d="M309.1 706.3000000000001 H314.6" stroke="#000" stroke-width="1.4"/>
<rect x="277" y="723.6" width="15.5" height="15.5" rx="2.8" stroke="#d2323c"/><circle cx="284.75" cy="729.2" r="0.75" fill="#000" stroke="none"/><path d="M282 733.8000000000001 H287.5" stroke="#000" stroke-width="1.4"/>
<rect x="304.1" y="723.6" width="15.5" height="15.5" rx="2.8" stroke="#000"/><circle cx="311.85" cy="729.2" r="0.75" fill="#000" stroke="none"/><path d="M309.1 733.8000000000001 H314.6" stroke="#000" stroke-width="1.4"/>
<circle cx="298.3" cy="717.7" r="8" fill="#e9fbd3" stroke="#000" stroke-width="2"/>
<circle cx="298.3" cy="715.6" r="0.75" fill="#000" stroke="none"/><path d="M296 719.9 H300.6" stroke="#000" stroke-width="1.4"/>
</g>
<g id="ic-stream" fill="none" stroke="#000" stroke-width="2.1" stroke-linejoin="round" stroke-linecap="round">
<path d="M505.4 691.9 H553.4"/>
<path d="M514.2 693 L516.4 698.2 H523.2 L524.8 693"/>
<path d="M519.4 699.2 V705.2 M515.8 709.6 A3.6 3.6 0 0 1 523 709.6" stroke="#d2323c" stroke-width="1.9"/>
<rect x="513.2" y="710.8" width="12" height="12" stroke-linejoin="miter"/>
<path d="M519.2 711.8 V714.6" stroke-linecap="butt"/>
<rect x="533.6" y="713.4" width="12" height="12" stroke-linejoin="miter"/>
<path d="M539.6 714.4 V717.2" stroke-linecap="butt"/>
<g stroke="#d2323c" stroke-width="1.8">
<path d="M511 727.8 A4.3 4.3 0 0 1 511 736.4"/>
<circle cx="529.5" cy="732.1" r="4.2"/>
<path d="M548.4 727.8 A4.3 4.3 0 0 0 548.4 736.4"/>
</g>
<rect x="505.7" y="727.6" width="47.8" height="9" rx="4.5"/>
<rect x="510.2" y="737" width="39" height="6.6" stroke-linejoin="miter"/>
</g>
<!-- 64_icons_consume -->
<g id="ic-atom" fill="none" stroke="#0c2a78" stroke-width="2.55">
<rect x="62.199999999999996" y="954.2" width="60.8" height="24.8" rx="12.4" transform="rotate(-9 92.6 966.6)"/>
<rect x="62.199999999999996" y="954.2" width="60.8" height="24.8" rx="12.4" transform="rotate(51 92.6 966.6)"/>
<rect x="62.199999999999996" y="954.2" width="60.8" height="24.8" rx="12.4" transform="rotate(111 92.6 966.6)"/>
<circle cx="92.6" cy="966.6" r="4.9" fill="#f5455a" stroke-width="2.3"/>
<circle cx="108.1" cy="959" r="3.6" fill="#f9c23c" stroke-width="2.3"/>
<circle cx="67.7" cy="978.3" r="3.6" fill="#f9c23c" stroke-width="2.3"/>
</g>
<g id="ic-bi" stroke-linejoin="round" stroke-linecap="round">
<g fill="none" stroke="#f5c242" stroke-width="1.8"><path d="M241.33 945.33 L247.10 950.21 M241.77 954.21 L247.10 954.21 M241.33 963.09 L246.66 958.21"/><path d="M283.97 945.33 L278.19 950.21 M283.52 954.21 L278.19 954.21 M283.97 963.09 L278.64 958.21"/></g>
<g fill="#d9b857" stroke="#0c2a78" stroke-width="2.1"><circle cx="239.10" cy="943.37" r="2.5"/><circle cx="239.10" cy="954.21" r="2.5"/><circle cx="239.10" cy="965.05" r="2.5"/><circle cx="286.19" cy="943.37" r="2.5"/><circle cx="286.19" cy="954.21" r="2.5"/><circle cx="286.19" cy="965.05" r="2.5"/></g>
<clipPath id="brainclip"><path d="M262.47 941.42 C261.76 938.93 258.65 937.51 256.25 938.75 C254.21 939.64 252.87 941.15 253.14 943.19 C250.21 943.19 247.01 944.97 246.74 948.52 C246.57 950.48 247.28 952.25 248.52 953.68 C246.12 955.10 244.88 958.12 245.77 961.49 C246.48 964.60 248.96 967.27 252.16 968.42 L262.47 968.42 Z"/><path d="M262.47 941.42 C263.18 938.93 266.29 937.51 268.69 938.75 C270.73 939.64 272.06 941.15 271.79 943.19 C274.73 943.19 277.92 944.97 278.19 948.52 C278.37 950.48 277.66 952.25 276.41 953.68 C278.81 955.10 280.06 958.12 279.17 961.49 C278.46 964.60 275.97 967.27 272.77 968.42 L262.47 968.42 Z"/></clipPath>
<path d="M262.47 941.42 C261.76 938.93 258.65 937.51 256.25 938.75 C254.21 939.64 252.87 941.15 253.14 943.19 C250.21 943.19 247.01 944.97 246.74 948.52 C246.57 950.48 247.28 952.25 248.52 953.68 C246.12 955.10 244.88 958.12 245.77 961.49 C246.48 964.60 248.96 967.27 252.16 968.42 L262.47 968.42 Z" fill="#f9cbbd" stroke="#0c2a78" stroke-width="2.2"/><path d="M262.47 941.42 C263.18 938.93 266.29 937.51 268.69 938.75 C270.73 939.64 272.06 941.15 271.79 943.19 C274.73 943.19 277.92 944.97 278.19 948.52 C278.37 950.48 277.66 952.25 276.41 953.68 C278.81 955.10 280.06 958.12 279.17 961.49 C278.46 964.60 275.97 967.27 272.77 968.42 L262.47 968.42 Z" fill="#f9cbbd" stroke="#0c2a78" stroke-width="2.2"/>
<circle cx="262.47" cy="975.53" r="17.4" fill="#f284a2" clip-path="url(#brainclip)"/>
<path d="M262.47 941.42 C261.76 938.93 258.65 937.51 256.25 938.75 C254.21 939.64 252.87 941.15 253.14 943.19 C250.21 943.19 247.01 944.97 246.74 948.52 C246.57 950.48 247.28 952.25 248.52 953.68 C246.12 955.10 244.88 958.12 245.77 961.49 C246.48 964.60 248.96 967.27 252.16 968.42 L262.47 968.42 Z" fill="none" stroke="#0c2a78" stroke-width="2.2"/><path d="M262.47 941.42 C263.18 938.93 266.29 937.51 268.69 938.75 C270.73 939.64 272.06 941.15 271.79 943.19 C274.73 943.19 277.92 944.97 278.19 948.52 C278.37 950.48 277.66 952.25 276.41 953.68 C278.81 955.10 280.06 958.12 279.17 961.49 C278.46 964.60 275.97 967.27 272.77 968.42 L262.47 968.42 Z" fill="none" stroke="#0c2a78" stroke-width="2.2"/>
<g fill="none" stroke="#0c2a78" stroke-width="2.1"><path d="M262.47 941.42 L262.47 963.09"/><path d="M253.14 943.19 C254.65 943.02 256.25 943.64 256.96 944.97 M248.52 953.68 C250.65 955.45 253.76 954.83 255.09 952.17"/><path d="M271.79 943.19 C270.28 943.02 268.69 943.64 267.98 944.97 M276.41 953.68 C274.28 955.45 271.17 954.83 269.84 952.17"/></g>
<path d="M256.43 988.85 C256.43 985.30 254.65 984.41 251.99 982.19 C246.83 977.31 248.96 962.91 262.47 962.91 C275.97 962.91 278.10 977.31 272.95 982.19 C270.28 984.41 268.51 985.30 268.51 988.85 Z" fill="#f5c242" stroke="#0c2a78" stroke-width="2.3"/>
<g fill="none" stroke="#0c2a78" stroke-width="1.9"><path d="M262.47 973.31 L262.47 988.85 M256.60 976.86 L259.09 979.53 L259.09 988.85 M268.33 976.86 L265.84 979.53 L265.84 988.85"/></g>
<g fill="#e08a3c" stroke="#0c2a78" stroke-width="1.9"><circle cx="262.47" cy="971.09" r="2.1"/><circle cx="255.09" cy="975.08" r="2.1"/><circle cx="269.84" cy="975.08" r="2.1"/></g>
<rect x="253.94" y="989.56" width="17.06" height="4.62" rx="1.2" fill="#d5dcf2" stroke="#0c2a78" stroke-width="2.2"/>
<path d="M257.14 994.18 H267.80 V996.80 Q267.80 998.80 265.80 998.80 H259.14 Q257.14 998.80 257.14 996.80 Z" fill="#8aa6e6" stroke="#0c2a78" stroke-width="2.2"/>
</g>
<g id="ic-an" fill="none" stroke="#000" stroke-width="1.95" stroke-linejoin="miter" stroke-linecap="butt">
<rect x="417.7" y="941.9" width="49.4" height="49.1"/>
<path d="M417.7 950 H467.1 M433.9 942.2 L436.6 950"/>
<path d="M421.4 944.4 V946.6 M425.7 944.4 V946.6 M430 944.4 V946.6" stroke="#d2323c" stroke-width="1.5"/>
<path d="M430.6 955 V962 H423" stroke="#d2323c" stroke-width="1.7"/>
<circle cx="430.3" cy="962.5" r="8.6"/>
<rect x="442.6" y="954" width="20.6" height="12.4"/>
<path d="M442.6 958.2 H463.2 M442.6 962.3 H463.2" stroke-width="1.7"/>
<path d="M456.4 956 H458.2 M454.6 960.2 H456.4 M452 964.4 H453.8" stroke="#d2323c" stroke-width="1.5"/>
<g stroke="#d2323c" stroke-width="1.5">
<path d="M423.6 986 V981 H427.4 V986 M431.8 986 V981 H435.6 V986 M440 986 V981 H443.8 V986 M448.6 986 V982 H452 V986 M456.4 986 V981 H460.6 V986"/>
</g>
<path d="M422 986.8 H462.6" stroke-width="2" stroke-linecap="round"/>
</g>
<g id="ic-nn" stroke="#15153a" stroke-linecap="round">
<path d="M586.99 942.48 L611.42 950.21 M586.99 942.48 L611.42 966.65 M586.99 958.47 L611.42 950.21 M586.99 958.47 L611.42 966.65 M586.99 974.64 L611.42 966.65 M586.99 974.64 L611.42 982.64 M586.99 990.63 L611.42 966.65 M586.99 990.63 L611.42 982.64 M611.42 950.21 L635.85 958.47 M611.42 950.21 L635.85 974.64 M611.42 966.65 L635.85 958.47 M611.42 966.65 L635.85 974.64 M611.42 982.64 L635.85 958.47 M611.42 982.64 L635.85 974.64" fill="none" stroke-width="1.8"/>
<circle cx="586.99" cy="942.48" r="5" fill="#f05050" stroke-width="2.1"/><path d="M586.09 943.18 L587.69 941.58" fill="none" stroke-width="1.2"/>
<circle cx="586.99" cy="958.47" r="5" fill="#b9d9e8" stroke-width="2.1"/><path d="M586.09 959.17 L587.69 957.57" fill="none" stroke-width="1.2"/>
<circle cx="586.99" cy="974.64" r="5" fill="#b9d9e8" stroke-width="2.1"/><path d="M586.09 975.34 L587.69 973.74" fill="none" stroke-width="1.2"/>
<circle cx="586.99" cy="990.63" r="5" fill="#f05050" stroke-width="2.1"/><path d="M586.09 991.33 L587.69 989.73" fill="none" stroke-width="1.2"/>
<circle cx="611.42" cy="950.21" r="5" fill="#f4f4f6" stroke-width="2.1"/><path d="M610.52 950.91 L612.12 949.31" fill="none" stroke-width="1.2"/>
<circle cx="611.42" cy="966.65" r="5" fill="#b9d9e8" stroke-width="2.1"/><path d="M610.52 967.35 L612.12 965.75" fill="none" stroke-width="1.2"/>
<circle cx="611.42" cy="982.64" r="5" fill="#f4f4f6" stroke-width="2.1"/><path d="M610.52 983.34 L612.12 981.74" fill="none" stroke-width="1.2"/>
<circle cx="635.85" cy="958.47" r="5" fill="#f05050" stroke-width="2.1"/><path d="M634.95 959.17 L636.55 957.57" fill="none" stroke-width="1.2"/>
<circle cx="635.85" cy="974.64" r="5" fill="#f05050" stroke-width="2.1"/><path d="M634.95 975.34 L636.55 973.74" fill="none" stroke-width="1.2"/>
</g>
<!-- 70_arrows -->
<g><path d="M731.4 165.1 L711 141.1 L711 234.8 L691.2 234.8 L731.4 315.1 L771.8 234.8 L751.8 234.8 L751.8 141.1 Z" fill="#ffffff"/><path d="M731.4 165.1 L751.8 141.1 L751.8 234.8 L771.8 234.8 L731.4 315.1 Z" fill="#d9dee2"/><path d="M731.4 174.5 L715.9 155.7 L715.9 241.89999999999998 L700 241.89999999999998 L731.4 304.29999999999995 L763.5 241.89999999999998 L747.5 241.89999999999998 L747.5 155.7 Z" fill="#0b3f8f"/><path d="M731.4 174.5 L747.5 155.7 L747.5 241.89999999999998 L763.5 241.89999999999998 L731.4 304.29999999999995 Z" fill="#0a3170"/><text style="font-size:27.3px" fill="#fff" stroke="#fff" stroke-width="0.3" transform="translate(740.5 264) rotate(-90)" x="-1.25" y="0" textLength="75.13" lengthAdjust="spacingAndGlyphs">Collect</text></g>
<g><path d="M731.4 336.7 L711 312.7 L711 406.4 L691.2 406.4 L731.4 486.7 L771.8 406.4 L751.8 406.4 L751.8 312.7 Z" fill="#ffffff"/><path d="M731.4 336.7 L751.8 312.7 L751.8 406.4 L771.8 406.4 L731.4 486.7 Z" fill="#f9b1b1"/><path d="M731.4 346.09999999999997 L715.9 327.3 L715.9 413.5 L700 413.5 L731.4 475.9 L763.5 413.5 L747.5 413.5 L747.5 327.3 Z" fill="#8c0000"/><path d="M731.4 346.09999999999997 L747.5 327.3 L747.5 413.5 L763.5 413.5 L731.4 475.9 Z" fill="#6f0000"/><text style="font-size:27.3px" fill="#fff" stroke="#fff" stroke-width="0.3" transform="translate(737.8 430.9) rotate(-90)" x="-2.29" y="0" textLength="67.57" lengthAdjust="spacingAndGlyphs">Ingest</text></g>
<g><path d="M731.4 510.0 L711 486.0 L711 579.7 L691.2 579.7 L731.4 660.0 L771.8 579.7 L751.8 579.7 L751.8 486.0 Z" fill="#ffffff"/><path d="M731.4 510.0 L751.8 486.0 L751.8 579.7 L771.8 579.7 L731.4 660.0 Z" fill="#c9b2ff"/><path d="M731.4 519.4 L715.9 500.6 L715.9 586.8 L700 586.8 L731.4 649.2 L763.5 586.8 L747.5 586.8 L747.5 500.6 Z" fill="#2b0a82"/><path d="M731.4 519.4 L747.5 500.6 L747.5 586.8 L763.5 586.8 L731.4 649.2 Z" fill="#220666"/><text style="font-size:27.3px" fill="#fff" stroke="#fff" stroke-width="0.3" transform="translate(741.3 603.8) rotate(-90)" x="-1.14" y="0" textLength="59.85" lengthAdjust="spacingAndGlyphs">Store</text></g>
<g><path d="M731.4 683.5 L711 659.5 L711 753.2 L691.2 753.2 L731.4 833.5 L771.8 753.2 L751.8 753.2 L751.8 659.5 Z" fill="#ffffff"/><path d="M731.4 683.5 L751.8 659.5 L751.8 753.2 L771.8 753.2 L731.4 833.5 Z" fill="#d9f8ba"/><path d="M731.4 692.9 L715.9 674.1 L715.9 760.3 L700 760.3 L731.4 822.7 L763.5 760.3 L747.5 760.3 L747.5 674.1 Z" fill="#4b8b0a"/><path d="M731.4 692.9 L747.5 674.1 L747.5 760.3 L763.5 760.3 L731.4 822.7 Z" fill="#3b6f06"/><text style="font-size:27.3px" fill="#fff" stroke="#fff" stroke-width="0.3" transform="translate(738.75 796.3) rotate(-90)" x="-1.29" y="0" textLength="103.02" lengthAdjust="spacingAndGlyphs">Compute</text></g>
<g><path d="M731.4 855.8 L711 831.8 L711 925.5 L691.2 925.5 L731.4 1005.8 L771.8 925.5 L751.8 925.5 L751.8 831.8 Z" fill="#ffffff"/><path d="M731.4 855.8 L751.8 831.8 L751.8 925.5 L771.8 925.5 L731.4 1005.8 Z" fill="#ffe9a9"/><path d="M731.4 865.1999999999999 L715.9 846.4 L715.9 932.5999999999999 L700 932.5999999999999 L731.4 995.0 L763.5 932.5999999999999 L747.5 932.5999999999999 L747.5 846.4 Z" fill="#816600"/><path d="M731.4 865.1999999999999 L747.5 846.4 L747.5 932.5999999999999 L763.5 932.5999999999999 L731.4 995.0 Z" fill="#6b5500"/><text style="font-size:27.3px" fill="#fff" stroke="#fff" stroke-width="0.3" transform="translate(741.3 973.4) rotate(-90)" x="-1.29" y="0" textLength="108.82" lengthAdjust="spacingAndGlyphs">Consume</text></g>
</svg>
</body>
</html>
